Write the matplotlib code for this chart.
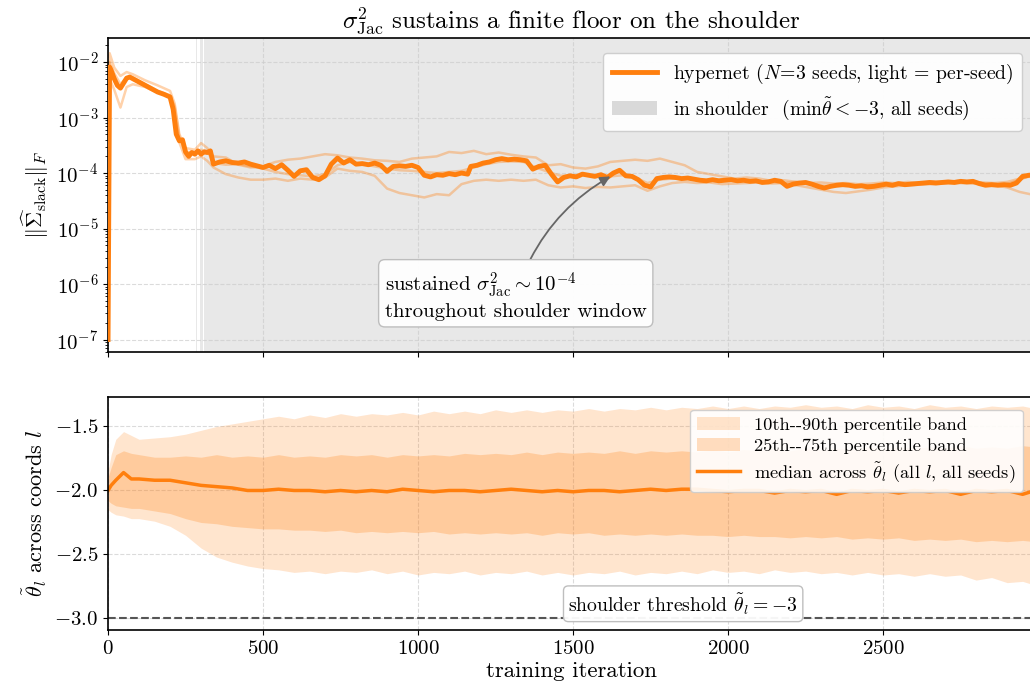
import numpy as np
import matplotlib
matplotlib.use("Agg")
import matplotlib.pyplot as plt
from matplotlib.patches import Patch
from matplotlib.lines import Line2D

plt.rcParams.update({
    "font.family": ["cmr10", "DejaVu Serif"],
    "mathtext.fontset": "cm",
    "axes.formatter.use_mathtext": True,
    "axes.unicode_minus": True,
    "font.size": 15,
})

ORANGE = "#ff7f0e"

# ---------------- top panel: ||Sigma_slack||_F (stored as log10) ----------------
median_pts = [
    (0, -7.00), (5, -2.09), (10, -2.15), (20, -2.30), (30, -2.42), (40, -2.47),
    (50, -2.38), (60, -2.29), (70, -2.27), (80, -2.30), (100, -2.36), (120, -2.42),
    (140, -2.48), (160, -2.54), (180, -2.58), (200, -2.63), (210, -2.85), (220, -3.30),
    (230, -3.42), (240, -3.40), (250, -3.62), (260, -3.70), (270, -3.63), (280, -3.66),
    (290, -3.60), (300, -3.66), (310, -3.62), (320, -3.63), (330, -3.60), (340, -3.84),
    (360, -3.80), (380, -3.78), (400, -3.81), (420, -3.82), (440, -3.80), (460, -3.84),
    (480, -3.87), (500, -3.90), (520, -3.86), (540, -3.92), (560, -3.85), (580, -3.95),
    (600, -4.06), (620, -3.96), (640, -3.94), (660, -4.08), (680, -4.12), (700, -4.05),
    (720, -3.84), (740, -3.73), (760, -3.82), (780, -3.76), (800, -3.84), (820, -3.83),
    (840, -3.85), (860, -3.82), (880, -3.86), (900, -3.97), (920, -3.88), (940, -3.87),
    (960, -3.88), (980, -3.86), (1000, -3.90), (1020, -4.04), (1040, -4.07), (1060, -4.03),
    (1080, -4.04), (1100, -4.01), (1120, -4.03), (1140, -4.00), (1160, -4.02), (1170, -3.88),
    (1190, -3.86), (1210, -3.82), (1230, -3.80), (1250, -3.76), (1270, -3.74), (1290, -3.76),
    (1310, -3.75), (1330, -3.76), (1350, -3.78), (1370, -3.93), (1390, -3.88), (1410, -3.86),
    (1430, -4.02), (1450, -4.16), (1470, -4.08), (1490, -4.05), (1510, -4.07), (1530, -4.02),
    (1550, -4.04), (1570, -4.06), (1590, -4.03), (1610, -4.08), (1630, -4.00), (1650, -3.95),
    (1670, -4.05), (1690, -4.06), (1710, -4.12), (1730, -4.22), (1750, -4.25), (1770, -4.10),
    (1790, -4.08), (1810, -4.07), (1830, -4.08), (1850, -4.10), (1870, -4.09), (1890, -4.11),
    (1910, -4.13), (1930, -4.14), (1950, -4.12), (1970, -4.14), (1990, -4.13), (2010, -4.12),
    (2030, -4.14), (2050, -4.13), (2070, -4.15), (2090, -4.14), (2110, -4.17), (2130, -4.16),
    (2150, -4.13), (2170, -4.15), (2190, -4.24), (2210, -4.20), (2230, -4.18), (2250, -4.17),
    (2270, -4.20), (2290, -4.24), (2310, -4.27), (2330, -4.24), (2350, -4.22), (2370, -4.21),
    (2390, -4.22), (2410, -4.24), (2430, -4.23), (2450, -4.25), (2470, -4.24), (2490, -4.22),
    (2510, -4.20), (2530, -4.22), (2550, -4.19), (2570, -4.21), (2590, -4.20), (2610, -4.19),
    (2630, -4.18), (2650, -4.17), (2670, -4.18), (2690, -4.17), (2710, -4.16), (2730, -4.17),
    (2750, -4.15), (2770, -4.16), (2790, -4.15), (2810, -4.19), (2830, -4.22), (2850, -4.21),
    (2870, -4.22), (2890, -4.21), (2910, -4.22), (2930, -4.18), (2950, -4.06), (2970, -4.04),
    (2990, -4.03),
]

seed_iters = [
    0, 5, 20, 40, 60, 80, 120, 160, 200, 215, 230, 250, 280, 300, 320, 340,
    380, 420, 460, 500, 540, 580, 620, 660, 700, 740,
    780, 820, 860, 900, 940, 980, 1020, 1060, 1100, 1140,
    1180, 1220, 1260, 1300, 1340, 1380, 1420, 1460, 1500, 1540,
    1580, 1620, 1660, 1700, 1740, 1780, 1820, 1860, 1900, 1940,
    1980, 2020, 2060, 2100, 2140, 2180, 2220, 2260, 2300, 2340,
    2380, 2420, 2460, 2500, 2540, 2580, 2620, 2660, 2700, 2740,
    2780, 2820, 2860, 2900, 2940, 2990,
]
seed_a_log = [
    -7.0, -1.84, -2.10, -2.25, -2.18, -2.22, -2.33, -2.42, -2.52, -2.75, -3.30, -3.55, -3.58, -3.46, -3.55, -3.70,
    -3.72, -3.85, -3.90, -3.88, -3.80, -3.76, -3.74, -3.70, -3.66, -3.68,
    -3.72, -3.74, -3.77, -3.78, -3.80, -3.74, -3.72, -3.70, -3.62, -3.64,
    -3.60, -3.66, -3.63, -3.67, -3.70, -3.72, -3.86, -3.84, -3.90, -3.92,
    -3.88, -3.80, -3.78, -3.76, -3.78, -3.74, -3.80, -3.86, -3.98, -4.02,
    -4.06, -4.10, -4.08, -4.10, -4.14, -4.13, -4.16, -4.18, -4.17, -4.19,
    -4.18, -4.20, -4.19, -4.17, -4.18, -4.16, -4.18, -4.15, -4.16, -4.14,
    -4.15, -4.17, -4.18, -4.16, -4.10, -4.04,
]
seed_b_log = [
    -7.0, -2.30, -2.50, -2.82, -2.45, -2.40, -2.45, -2.55, -2.62, -2.95, -3.45, -3.75, -3.75, -3.70, -3.78, -3.90,
    -4.02, -4.08, -4.12, -4.12, -4.10, -4.14, -4.10, -4.12, -4.08, -3.92,
    -3.96, -3.98, -4.05, -4.28, -4.36, -4.40, -4.44, -4.38, -4.40, -4.20,
    -4.14, -4.12, -4.14, -4.12, -4.14, -4.12, -4.22, -4.26, -4.24, -4.27,
    -4.25, -4.26, -4.24, -4.22, -4.32, -4.24, -4.18, -4.16, -4.18, -4.17,
    -4.20, -4.19, -4.18, -4.17, -4.19, -4.18, -4.22, -4.26, -4.30, -4.34,
    -4.36, -4.33, -4.30, -4.26, -4.24, -4.22, -4.21, -4.20, -4.19, -4.18,
    -4.19, -4.20, -4.22, -4.26, -4.34, -4.40,
]
seed_c_log = [
    -7.0, -2.00, -2.20, -2.40, -2.27, -2.28, -2.40, -2.52, -2.60, -2.80, -3.35, -3.62, -3.62, -3.58, -3.60, -3.82,
    -3.85, -3.84, -3.88, -3.92, -3.98, -4.02, -4.04, -4.06, -4.02, -3.86,
    -3.80, -3.84, -3.88, -3.92, -3.95, -3.96, -3.98, -4.00, -3.98, -3.96,
    -3.90, -3.84, -3.80, -3.79, -3.80, -3.90, -3.98, -4.05, -4.04, -4.03,
    -4.05, -4.06, -4.04, -4.08, -4.18, -4.12, -4.10, -4.10, -4.12, -4.13,
    -4.12, -4.14, -4.13, -4.15, -4.16, -4.18, -4.16, -4.18, -4.22, -4.24,
    -4.22, -4.23, -4.22, -4.21, -4.20, -4.19, -4.18, -4.17, -4.16, -4.16,
    -4.15, -4.18, -4.20, -4.20, -4.12, -4.02,
]

# iteration windows where every seed is in the shoulder
shoulder_windows = [(284, 286), (297, 306), (308, 2990)]

# ---------------- bottom panel: theta_tilde percentiles ----------------
band_iters = [
    0, 10, 25, 50, 75, 100,
    150, 200, 250, 300, 350, 400, 450, 500, 550, 600,
    650, 700, 750, 800, 850, 900, 950, 1000, 1050, 1100,
    1150, 1200, 1250, 1300, 1350, 1400, 1450, 1500, 1550, 1600,
    1650, 1700, 1750, 1800, 1850, 1900, 1950, 2000, 2050, 2100,
    2150, 2200, 2250, 2300, 2350, 2400, 2450, 2500, 2550, 2600,
    2650, 2700, 2750, 2800, 2850, 2900, 2950, 2990,
]
p90 = [
    -1.85, -1.72, -1.60, -1.54, -1.57, -1.60,
    -1.59, -1.58, -1.56, -1.53, -1.50, -1.48, -1.46, -1.44, -1.42, -1.44,
    -1.41, -1.43, -1.40, -1.42, -1.40, -1.41, -1.39, -1.41, -1.38, -1.40,
    -1.38, -1.40, -1.37, -1.39, -1.37, -1.39, -1.37, -1.38, -1.36, -1.38,
    -1.36, -1.37, -1.35, -1.37, -1.35, -1.36, -1.34, -1.36, -1.34, -1.36,
    -1.34, -1.35, -1.33, -1.35, -1.34, -1.36, -1.33, -1.35, -1.34, -1.36,
    -1.33, -1.35, -1.34, -1.36, -1.34, -1.35, -1.34, -1.36,
]
p75 = [
    -1.90, -1.82, -1.72, -1.69, -1.71, -1.72,
    -1.74, -1.74, -1.73, -1.74, -1.72, -1.74, -1.73, -1.74, -1.72, -1.74,
    -1.73, -1.74, -1.72, -1.73, -1.72, -1.74, -1.72, -1.73, -1.72, -1.73,
    -1.71, -1.72, -1.71, -1.72, -1.70, -1.72, -1.70, -1.71, -1.70, -1.71,
    -1.69, -1.71, -1.69, -1.70, -1.69, -1.70, -1.68, -1.70, -1.68, -1.69,
    -1.67, -1.69, -1.67, -1.68, -1.67, -1.68, -1.66, -1.68, -1.66, -1.67,
    -1.66, -1.67, -1.65, -1.67, -1.66, -1.67, -1.65, -1.66,
]
p50 = [
    -2.00, -1.96, -1.92, -1.86, -1.91, -1.91,
    -1.92, -1.92, -1.94, -1.96, -1.97, -1.98, -2.00, -2.00, -1.99, -2.00,
    -2.00, -2.01, -2.00, -2.01, -2.00, -2.01, -1.99, -2.00, -2.01, -2.00,
    -2.00, -2.01, -2.00, -1.99, -2.00, -2.01, -2.00, -2.01, -2.00, -2.00,
    -2.01, -2.00, -1.99, -2.00, -1.99, -1.99, -2.00, -2.01, -2.00, -2.00,
    -2.02, -2.00, -2.01, -2.00, -2.03, -2.00, -2.01, -2.00, -2.02, -2.00,
    -2.01, -2.00, -2.03, -2.00, -2.01, -2.00, -2.03, -2.00,
]
p25 = [
    -2.08, -2.10, -2.12, -2.13, -2.14, -2.14,
    -2.16, -2.18, -2.22, -2.25, -2.26, -2.28, -2.29, -2.30, -2.30, -2.31,
    -2.31, -2.32, -2.31, -2.33, -2.32, -2.33, -2.32, -2.33, -2.32, -2.34,
    -2.33, -2.34, -2.33, -2.34, -2.33, -2.35, -2.33, -2.34, -2.33, -2.35,
    -2.34, -2.35, -2.34, -2.35, -2.34, -2.35, -2.35, -2.36, -2.35, -2.36,
    -2.36, -2.37, -2.36, -2.37, -2.36, -2.38, -2.37, -2.38, -2.37, -2.39,
    -2.38, -2.39, -2.38, -2.40, -2.39, -2.40, -2.39, -2.40,
]
p10 = [
    -2.15, -2.17, -2.19, -2.20, -2.22, -2.22,
    -2.24, -2.28, -2.35, -2.45, -2.52, -2.56, -2.59, -2.61, -2.62, -2.64,
    -2.63, -2.65, -2.63, -2.64, -2.62, -2.65, -2.63, -2.66, -2.64, -2.65,
    -2.63, -2.66, -2.64, -2.65, -2.63, -2.66, -2.64, -2.66, -2.64, -2.65,
    -2.63, -2.66, -2.64, -2.65, -2.63, -2.65, -2.62, -2.64, -2.63, -2.65,
    -2.62, -2.64, -2.63, -2.65, -2.64, -2.66, -2.64, -2.66, -2.65, -2.67,
    -2.65, -2.67, -2.66, -2.70, -2.68, -2.72, -2.71, -2.74,
]
shoulder_threshold = -3.0

# ---------------- figure ----------------
fig = plt.figure(figsize=(10.3, 6.94), dpi=100)
ax1 = fig.add_axes([0.1049, 0.4928, 0.9, 0.4524])
ax2 = fig.add_axes([0.1049, 0.0922, 0.9, 0.3357], sharex=ax1)

grid_kw = dict(color="#cccccc", linestyle="--", linewidth=0.8, alpha=0.7)

# top panel
for a, b in shoulder_windows:
    ax1.axvspan(a, b, color="0.5", alpha=0.18, lw=0, zorder=0)

m_it, m_log = zip(*median_pts)
for s in (seed_a_log, seed_b_log, seed_c_log):
    ax1.plot(seed_iters, 10.0 ** np.array(s), color=ORANGE, alpha=0.35, lw=1.8, zorder=2)
ax1.plot(m_it, 10.0 ** np.array(m_log), color=ORANGE, lw=3.5, zorder=3)

ax1.set_yscale("log")
ax1.set_ylim(10 ** -7.225, 10 ** -1.567)
ax1.set_xlim(0, 2990)
ax1.grid(True, which="major", **grid_kw)
ax1.set_axisbelow(True)
ax1.set_ylabel(r"$\|\widehat{\Sigma}_{\rm slack}\|_F$", fontsize=16)
ax1.set_title(r"$\sigma^2_{\rm Jac}$ sustains a finite floor on the shoulder", fontsize=18, pad=7)
ax1.tick_params(axis="x", labelbottom=False)

ax1.annotate(
    "sustained $\\sigma^2_{\\rm Jac} \\sim 10^{-4}$\nthroughout shoulder window",
    xy=(1628, 9.2e-5), xytext=(1315, 6.2e-7),
    ha="center", va="center", multialignment="left", fontsize=15,
    bbox=dict(boxstyle="round,pad=0.3", fc="white", ec="#bbbbbb", alpha=0.95),
    arrowprops=dict(arrowstyle="-|>", color="#666666", lw=1.3,
                    connectionstyle="arc3,rad=-0.2", shrinkA=0, shrinkB=2),
    zorder=5,
)

h1 = [Line2D([], [], color=ORANGE, lw=3.5),
      Patch(facecolor="#d9d9d9", edgecolor="none")]
l1 = [r"hypernet ($N\!=\!3$ seeds, light = per-seed)",
      r"in shoulder  ($\min\tilde{\theta} < -3$, all seeds)"]
ax1.legend(h1, l1, loc="upper right", fontsize=14.2, framealpha=0.95,
           edgecolor="#cccccc", handlelength=2.3, labelspacing=0.5,
           borderpad=0.45, handletextpad=0.8, bbox_to_anchor=(0.997, 0.985))

# bottom panel
ax2.fill_between(band_iters, p10, p90, color=ORANGE, alpha=0.2, lw=0,
                 label="10th--90th percentile band")
ax2.fill_between(band_iters, p25, p75, color=ORANGE, alpha=0.25, lw=0,
                 label="25th--75th percentile band")
ax2.plot(band_iters, p50, color=ORANGE, lw=2.5,
         label=r"median across $\tilde{\theta}_l$ (all $l$, all seeds)")
ax2.axhline(shoulder_threshold, color="#555555", ls="--", lw=1.5)
ax2.text(1855, -2.885, r"shoulder threshold $\tilde{\theta}_l = -3$", ha="center", va="center",
         fontsize=14.2,
         bbox=dict(boxstyle="round,pad=0.25", fc="white", ec="#bbbbbb", alpha=0.95))
ax2.set_ylim(-3.09, -1.27)
ax2.set_yticks([-3.0, -2.5, -2.0, -1.5])
ax2.set_xticks([0, 500, 1000, 1500, 2000, 2500])
ax2.grid(True, which="major", **grid_kw)
ax2.set_axisbelow(True)
ax2.set_ylabel(r"$\tilde{\theta}_l$ across coords $l$", fontsize=16)
ax2.set_xlabel("training iteration", fontsize=16.5, labelpad=3)
ax2.legend(loc="upper right", fontsize=13.2, framealpha=0.9, edgecolor="#cccccc",
           handlelength=2.3, labelspacing=0.3, borderpad=0.4,
           bbox_to_anchor=(0.997, 0.985))

for ax in (ax1, ax2):
    ax.tick_params(labelsize=15, direction="out")
    for sp in ax.spines.values():
        sp.set_linewidth(1.2)

fig.savefig("out.png", dpi=100)
